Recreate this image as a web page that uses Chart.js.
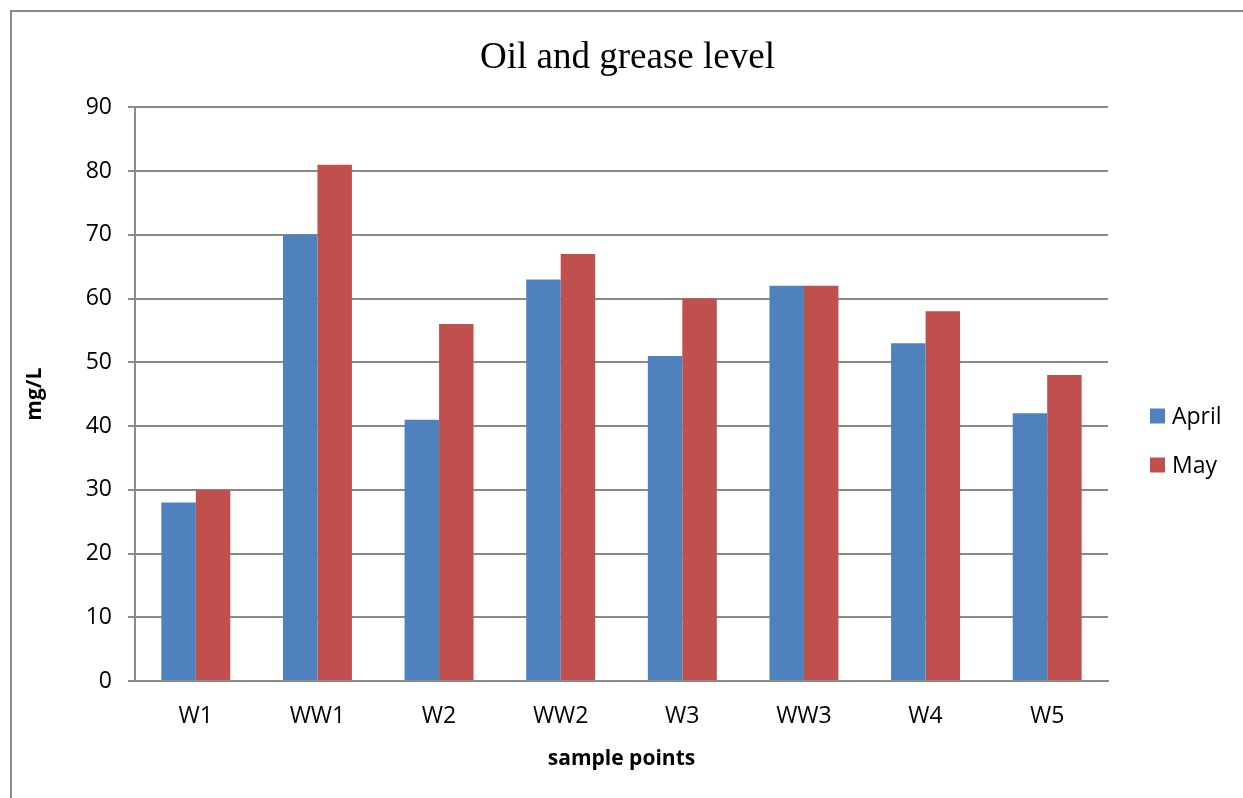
<!DOCTYPE html>
<html>
<head>
<meta charset="utf-8">
<script src="https://cdn.jsdelivr.net/npm/chart.js@4/dist/chart.umd.min.js"></script>
<style>
  html, body { margin: 0; padding: 0; background: #fff; overflow: hidden; }
  #frame { position: absolute; left: 10px; top: 10px; width: 1400px; height: 900px;
           border-left: 2px solid #8a8a8a; border-top: 2px solid #8a8a8a; }
  #myChart { position: absolute; left: 0; top: 0; }
</style>
</head>
<body>
<div id="frame"></div>
<canvas id="myChart" width="1243" height="798"></canvas>
<script>
var categories = ["W1", "WW1", "W2", "WW2", "W3", "WW3", "W4", "W5"];
var april = [28, 70, 41, 63, 51, 62, 53, 42];
var may = [30, 81, 56, 67, 60, 62, 58, 48];
var seriesNames = ["April", "May"];
var seriesColors = ["#4F81BD", "#C0504D"];

var gridColor = "#8a8a8a";
var sansFont = "'Open Sans', sans-serif";

// legend drawn by hand, Excel style (square + text on the right)
var sideLegend = {
    id: "sideLegend",
    afterDraw(chart) {
        var ctx = chart.ctx;
        ctx.save();
        ctx.font = "23px " + sansFont;
        ctx.textBaseline = "middle";
        chart.data.datasets.forEach((ds, i) => {
            var y = 416 + i * 49;
            ctx.fillStyle = ds.backgroundColor;
            ctx.fillRect(1150, y - 7.5, 15, 15);
            ctx.fillStyle = "#000";
            ctx.fillText(ds.label, 1172, y + 1);
        });
        ctx.restore();
    }
};

new Chart(document.getElementById("myChart"), {
    type: "bar",
    data: {
        labels: categories,
        datasets: [
            {
                label: seriesNames[0],
                data: april,
                backgroundColor: seriesColors[0],
                categoryPercentage: 0.567,
                barPercentage: 1
            },
            {
                label: seriesNames[1],
                data: may,
                backgroundColor: seriesColors[1],
                categoryPercentage: 0.567,
                barPercentage: 1
            }
        ]
    },
    options: {
        responsive: false,
        animation: false,
        layout: {
            padding: { left: 12, right: 0, top: 0, bottom: 0 }
        },
        plugins: {
            legend: { display: false },
            tooltip: { enabled: false },
            title: {
                display: true,
                text: "Oil and grease level",
                color: "#000",
                font: { family: "'Liberation Serif', serif", size: 37, weight: "normal" },
                padding: { top: 36, bottom: 27 }
            }
        },
        scales: {
            x: {
                grid: { display: false, drawTicks: false },
                border: { display: true, color: gridColor, width: 2 },
                ticks: {
                    color: "#000",
                    font: { family: sansFont, size: 23 },
                    padding: 22,
                    maxRotation: 0
                },
                title: {
                    display: true,
                    text: "sample points",
                    color: "#000",
                    font: { family: sansFont, size: 21, weight: "bold" },
                    padding: { top: 0, bottom: 26 }
                },
                afterFit(scale) { scale.height = 117; }
            },
            y: {
                min: 0,
                max: 90,
                ticks: {
                    stepSize: 10,
                    color: "#000",
                    font: { family: sansFont, size: 23 },
                    padding: 16
                },
                grid: { color: gridColor, lineWidth: 2, tickLength: 7 },
                border: { display: true, color: gridColor, width: 2 },
                title: {
                    display: true,
                    text: "mg/L",
                    color: "#000",
                    font: { family: sansFont, size: 21, weight: "bold" },
                    padding: 10
                },
                afterFit(scale) { scale.width = 123; }
            },
            // empty right-hand box that leaves room for the legend
            legendSpace: {
                position: "right",
                display: true,
                grid: { display: false, drawTicks: false },
                border: { display: false },
                ticks: { display: false },
                afterFit(scale) { scale.width = 135; }
            }
        }
    },
    plugins: [sideLegend]
});
</script>
</body>
</html>
